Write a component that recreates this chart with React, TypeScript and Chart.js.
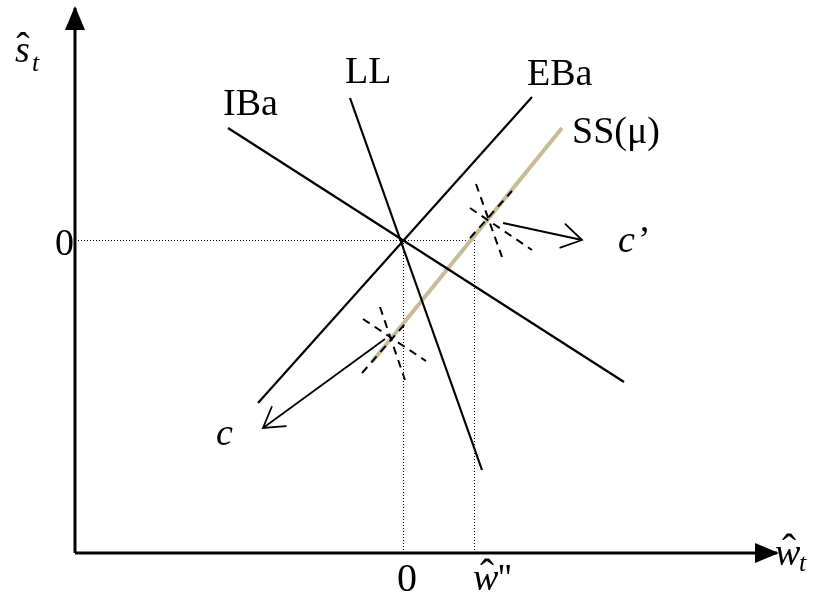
import React, { useEffect, useRef } from 'react';
import { Chart, registerables } from 'chart.js';

Chart.register(...registerables);

// Diagram data (model units; equilibrium at the origin)
const xAxisLine = [{ x: -3.28, y: -3.13 }, { x: 3.74, y: -3.13 }];
const yAxisLine = [{ x: -3.28, y: -3.13 }, { x: -3.28, y: 2.32 }];
const ibaLine = [{ x: -1.75, y: 1.12 }, { x: 2.21, y: -1.42 }];
const llLine = [{ x: -0.53, y: 1.42 }, { x: 0.79, y: -2.30 }];
const ebaLine = [{ x: -1.45, y: -1.63 }, { x: 1.29, y: 1.43 }];
const ssLine = [{ x: -0.31, y: -1.22 }, { x: 1.59, y: 1.12 }];
const dottedZeroS = [{ x: -3.25, y: -0.005 }, { x: 0.70, y: -0.005 }];
const dottedZeroW = [{ x: 0.005, y: 0 }, { x: 0.005, y: -3.13 }];
const dottedWpp = [{ x: 0.715, y: 0 }, { x: 0.715, y: -3.13 }];
const lowerCrossIBa = [{ x: -0.40, y: -0.79 }, { x: 0.23, y: -1.21 }];
const lowerCrossLL = [{ x: -0.23, y: -0.67 }, { x: 0.02, y: -1.40 }];
const lowerCrossEBa = [{ x: -0.41, y: -1.33 }, { x: 0.02, y: -0.84 }];
const upperCrossIBa = [{ x: 0.67, y: 0.32 }, { x: 1.29, y: -0.10 }];
const upperCrossLL = [{ x: 0.73, y: 0.56 }, { x: 0.99, y: -0.17 }];
const upperCrossEBa = [{ x: 0.67, y: 0.02 }, { x: 1.09, y: 0.49 }];
const arrowC = [{ x: -0.18, y: -0.99 }, { x: -1.40, y: -1.88 }];
const arrowCPrime = [{ x: 1.0, y: 0.17 }, { x: 1.79, y: 0.0 }];

// Text labels
const curveLabels = ['IBa', 'LL', 'EBa', 'SS(\u03bc)'];
const curveLabelPos = [
  { x: -1.8, y: 1.25 },
  { x: -0.58, y: 1.57 },
  { x: 1.24, y: 1.55 },
  { x: 1.69, y: 0.97 },
];

const SERIF = '"Liberation Serif", "Times New Roman", serif';

type Lbl = { text: string; x: number; y: number; font: string; align?: CanvasTextAlign; dx?: number; dy?: number };

const labels: Lbl[] = [
  ...curveLabels.map((t, i) => ({ text: t, x: curveLabelPos[i].x, y: curveLabelPos[i].y, font: `38px ${SERIF}` })),
  { text: 'c', x: 2.15, y: -0.12, font: `italic 38px ${SERIF}` },
  { text: '\u2019', x: 2.15, y: -0.12, font: `38px ${SERIF}`, dx: 20 },
  { text: 'c', x: -1.87, y: -2.05, font: `italic 38px ${SERIF}` },
  { text: '0', x: -3.48, y: -0.15, font: `38px ${SERIF}` },
  { text: '0', x: -0.06, y: -3.51, font: `40px ${SERIF}` },
  // w-hat double prime
  { text: 'w', x: 0.70, y: -3.50, font: `italic 38px ${SERIF}` },
  { text: '\u02c6', x: 0.70, y: -3.50, font: `42px ${SERIF}`, align: 'center', dx: 14, dy: -2 },
  { text: "''", x: 0.70, y: -3.50, font: `38px ${SERIF}`, dx: 25 },
  // w-hat t (x axis)
  { text: 'w', x: 3.72, y: -3.25, font: `italic 38px ${SERIF}` },
  { text: '\u02c6', x: 3.72, y: -3.25, font: `42px ${SERIF}`, align: 'center', dx: 14, dy: -2 },
  { text: 't', x: 3.72, y: -3.25, font: `italic 26px ${SERIF}`, dx: 24, dy: 6 },
  // s-hat t (y axis)
  { text: 's', x: -3.88, y: 1.78, font: `italic 38px ${SERIF}` },
  { text: '\u02c6', x: -3.88, y: 1.78, font: `40px ${SERIF}`, align: 'center', dx: 8, dy: -2 },
  { text: 't', x: -3.88, y: 1.78, font: `italic 26px ${SERIF}`, dx: 17, dy: 9 },
];

const arrowPlugin = {
  id: 'arrowHeads',
  afterDatasetsDraw(chart: any) {
    const { ctx } = chart;
    const xs = chart.scales.x;
    const ys = chart.scales.y;
    chart.data.datasets.forEach((ds: any) => {
      if (!ds.arrow) return;
      const d = ds.data;
      const p1 = d[d.length - 2];
      const p2 = d[d.length - 1];
      const x1 = xs.getPixelForValue(p1.x), y1 = ys.getPixelForValue(p1.y);
      const x2 = xs.getPixelForValue(p2.x), y2 = ys.getPixelForValue(p2.y);
      const ang = Math.atan2(y2 - y1, x2 - x1);
      ctx.save();
      ctx.strokeStyle = ds.borderColor;
      ctx.fillStyle = ds.borderColor;
      if (ds.arrow === 'filled') {
        const len = 22, half = 10;
        const bx = x2 - len * Math.cos(ang), by = y2 - len * Math.sin(ang);
        ctx.beginPath();
        ctx.moveTo(x2 + 2 * Math.cos(ang), y2 + 2 * Math.sin(ang));
        ctx.lineTo(bx + half * Math.sin(ang), by - half * Math.cos(ang));
        ctx.lineTo(bx - half * Math.sin(ang), by + half * Math.cos(ang));
        ctx.closePath();
        ctx.fill();
      } else {
        const len = 23, spread = 0.55;
        ctx.lineWidth = ds.borderWidth;
        ctx.lineCap = 'round';
        ctx.beginPath();
        ctx.moveTo(x2 - len * Math.cos(ang - spread), y2 - len * Math.sin(ang - spread));
        ctx.lineTo(x2, y2);
        ctx.lineTo(x2 - len * Math.cos(ang + spread), y2 - len * Math.sin(ang + spread));
        ctx.stroke();
      }
      ctx.restore();
    });
  },
};

const labelPlugin = {
  id: 'textLabels',
  afterDraw(chart: any) {
    const { ctx } = chart;
    const xs = chart.scales.x;
    const ys = chart.scales.y;
    ctx.save();
    ctx.fillStyle = '#000';
    ctx.textBaseline = 'alphabetic';
    labels.forEach((l) => {
      ctx.font = l.font;
      ctx.textAlign = l.align || 'left';
      ctx.fillText(l.text, xs.getPixelForValue(l.x) + (l.dx || 0), ys.getPixelForValue(l.y) + (l.dy || 0));
    });
    ctx.restore();
  },
};

function line(data: any[], extra: any) {
  return {
    type: 'scatter',
    data,
    showLine: true,
    pointRadius: 0,
    pointHoverRadius: 0,
    borderColor: '#000',
    borderWidth: 2.2,
    fill: false,
    ...extra,
  };
}

export default function App() {
  const ref = useRef<HTMLCanvasElement | null>(null);
  useEffect(() => {
    if (!ref.current) return;
    const dash = [8, 6];
    const chart = new Chart(ref.current, {
      type: 'scatter',
      data: {
        datasets: [
          line(xAxisLine, { borderWidth: 3, arrow: 'filled', order: 2 }),
          line(yAxisLine, { borderWidth: 3, arrow: 'filled', order: 2 }),
          line(dottedZeroS, { borderWidth: 1, borderDash: [1, 2], order: 6 }),
          line(dottedZeroW, { borderWidth: 1, borderDash: [1, 2], order: 6 }),
          line(dottedWpp, { borderWidth: 1, borderDash: [1, 2], order: 6 }),
          line(ibaLine, { order: 3 }),
          line(llLine, { order: 3 }),
          line(ebaLine, { order: 3 }),
          line(ssLine, { borderColor: 'rgb(200,187,150)', borderWidth: 4, order: 4 }),
          line(lowerCrossIBa, { borderDash: dash, borderWidth: 2, order: 1 }),
          line(lowerCrossLL, { borderDash: dash, borderWidth: 2, order: 1 }),
          line(lowerCrossEBa, { borderDash: dash, borderWidth: 2, order: 1 }),
          line(upperCrossIBa, { borderDash: dash, borderWidth: 2, order: 1 }),
          line(upperCrossLL, { borderDash: dash, borderWidth: 2, order: 1 }),
          line(upperCrossEBa, { borderDash: dash, borderWidth: 2, order: 1 }),
          line(arrowC, { borderWidth: 1.8, arrow: 'open', order: 1 }),
          line(arrowCPrime, { borderWidth: 1.8, arrow: 'open', order: 1 }),
        ] as any,
      },
      options: {
        animation: false,
        responsive: true,
        maintainAspectRatio: false,
        layout: { padding: 0 },
        events: [],
        plugins: { legend: { display: false }, tooltip: { enabled: false } },
        scales: {
          x: { type: 'linear', min: -4.03, max: 4.13, display: false },
          y: { type: 'linear', min: -3.6, max: 2.4, display: false },
        },
        datasets: { scatter: { clip: false } as any },
      } as any,
      plugins: [arrowPlugin, labelPlugin],
    });
    return () => chart.destroy();
  }, []);
  return (
    <div style={{ position: 'absolute', left: 0, top: 0, width: 816, height: 600, background: '#fff' }}>
      <canvas ref={ref} />
    </div>
  );
}
